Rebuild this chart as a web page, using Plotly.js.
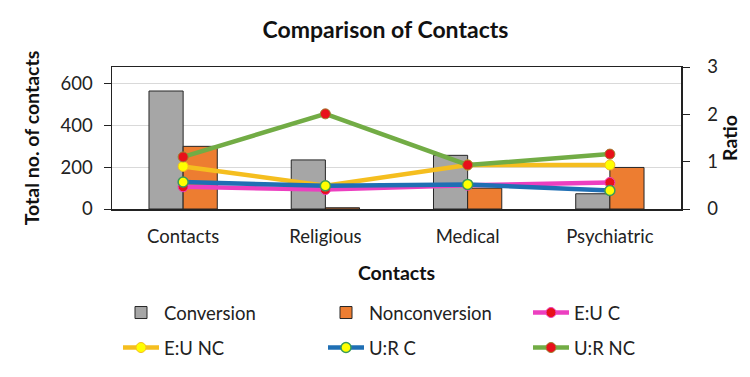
<!DOCTYPE html>
<html><head><meta charset="utf-8">
<script src="https://cdn.plot.ly/plotly-3.0.1.min.js"></script>
<style>body{margin:0;background:#fff}#c{width:750px;height:377px}</style>
</head><body><div id="c"></div>
<script>
const categories = ["Contacts", "Religious", "Medical", "Psychiatric"];
const conversion = [565, 235, 257, 73];
const nonconversion = [300, 6, 100, 199];
const euC = [0.47, 0.41, 0.50, 0.56];
const euNC = [0.90, 0.49, 0.93, 0.93];
const urC = [0.57, 0.49, 0.52, 0.39];
const urNC = [1.10, 2.01, 0.93, 1.16];

const F = "Lato, 'Liberation Sans', sans-serif";
const traces = [
  {type:'bar', name:'Conversion', x:categories, y:conversion,
   marker:{color:'#a6a6a6', line:{color:'#262626', width:1}}, legend:'legend'},
  {type:'bar', name:'Nonconversion', x:categories, y:nonconversion,
   marker:{color:'#ed7d31', line:{color:'#262626', width:1}}, legend:'legend2'},
  {type:'scatter', mode:'lines+markers', name:'E:U C', x:categories, y:euC, yaxis:'y2',
   line:{color:'#ec3fc0', width:4.5}, marker:{color:'#e8101a', size:10, line:{color:'#ec3fc0', width:1}}, legend:'legend3'},
  {type:'scatter', mode:'lines+markers', name:'E:U NC', x:categories, y:euNC, yaxis:'y2',
   line:{color:'#f5be1f', width:4.5}, marker:{color:'#ffff00', size:10, line:{color:'#f5be1f', width:1}}, legend:'legend4'},
  {type:'scatter', mode:'lines+markers', name:'U:R C', x:categories, y:urC, yaxis:'y2',
   line:{color:'#1f6fb4', width:4.5}, marker:{color:'#ffff00', size:10, line:{color:'#3a9a5a', width:1.5}}, legend:'legend5'},
  {type:'scatter', mode:'lines+markers', name:'U:R NC', x:categories, y:urNC, yaxis:'y2',
   line:{color:'#72ac45', width:4.5}, marker:{color:'#e8101a', size:10, line:{color:'#a08030', width:1}}, legend:'legend6'}
];

const L = 112, R = 681, T = 67, B = 210;
function px2x(px){ return (px - L) / (R - L); }
function py2y(py){ return (B - py) / (B - T); }
function leg(px, py){
  return {orientation:'v', x:px2x(px), xanchor:'left', y:py2y(py), yanchor:'middle',
    font:{family:F, size:18.5, color:'#222'}, bgcolor:'rgba(0,0,0,0)', itemwidth:36, borderwidth:0};
}

const layout = {
  width:750, height:377,
  margin:{l:L, r:750-R, t:T, b:377-B},
  paper_bgcolor:'#fff', plot_bgcolor:'#fff',
  barmode:'group', bargap:0.52, bargroupgap:0,
  showlegend:true,
  title:{text:'<b>Comparison of Contacts</b>', x:0.514, xanchor:'center', y:0.92, yanchor:'middle',
    font:{family:F, size:23, color:'#111'}},
  xaxis:{showline:true, linecolor:'#222', linewidth:1.5, mirror:true, ticks:'',
    ticklabelstandoff:10,
    tickfont:{family:F, size:18.5, color:'#222'},
    title:{text:'<b>Contacts</b>', font:{family:F, size:19.5, color:'#111'}, standoff:20}},
  yaxis:{range:[0,680], tickvals:[0,200,400,600], showline:true, linecolor:'#222', linewidth:1.5,
    ticks:'outside', ticklen:7, tickcolor:'#222', showgrid:true, gridcolor:'#d9d9d9', zeroline:false,
    ticklabelstandoff:7,
    tickfont:{family:F, size:18.5, color:'#222'},
    title:{text:'<b>Total no. of contacts</b>', font:{family:F, size:19.5, color:'#111'}, standoff:16}},
  yaxis2:{overlaying:'y', side:'right', range:[0,3], tickvals:[0,1,2,3], showline:true, linecolor:'#222', linewidth:1.5,
    ticks:'outside', ticklen:7, tickcolor:'#222', showgrid:false, zeroline:false,
    ticklabelstandoff:14,
    tickfont:{family:F, size:18.5, color:'#222'},
    title:{text:'<b>Ratio</b>', font:{family:F, size:19.5, color:'#111'}, standoff:4}},
  legend:leg(118, 313),
  legend2:leg(323, 313),
  legend3:leg(528, 313),
  legend4:leg(118, 348),
  legend5:leg(323, 348),
  legend6:leg(528, 348)
};
Plotly.newPlot('c', traces, layout, {displayModeBar:false, staticPlot:true});
</script></body></html>
